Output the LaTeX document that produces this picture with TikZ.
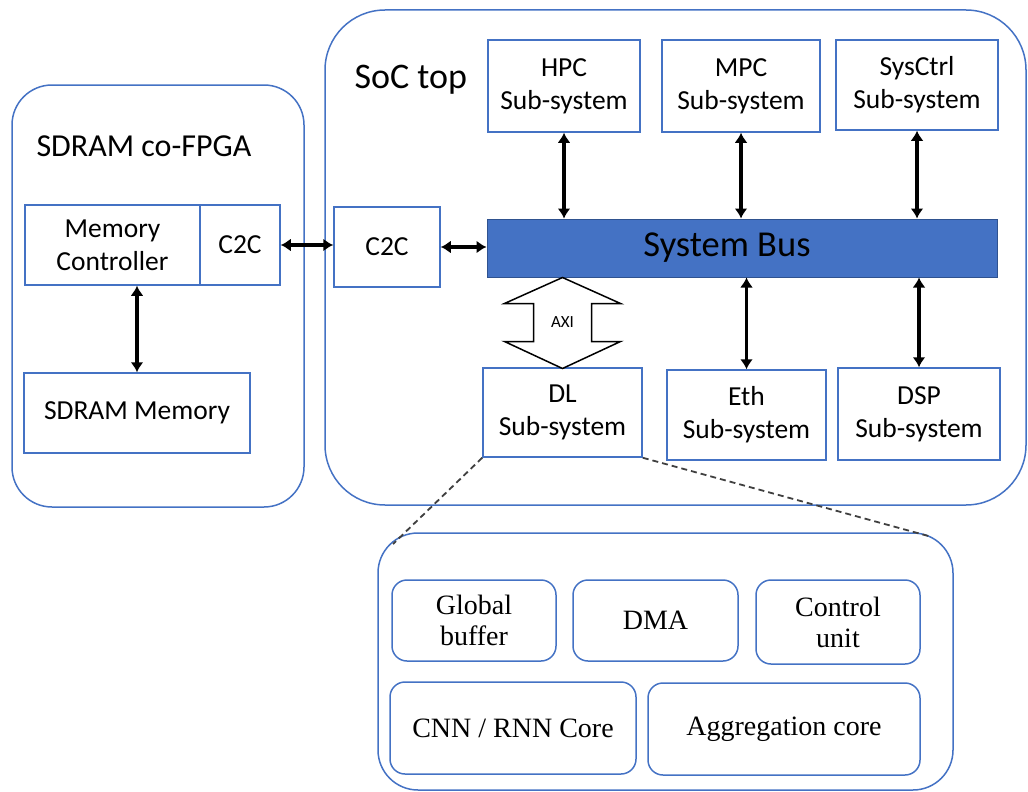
\documentclass[tikz,border=0pt]{standalone}
\usepackage{fontspec}
\setmainfont{Carlito}
\newfontfamily\timesfam{Liberation Serif}
\usepackage{tikz}
\usetikzlibrary{arrows,arrows.meta,positioning,calc,shapes}
\definecolor{boxblue}{HTML}{4472C4}
\definecolor{busedge}{HTML}{2F528F}
\newcommand\boxfont{\fontsize{27.5}{33}\selectfont}
\newcommand\fpgafont{\fontsize{32}{36}\selectfont}
\newcommand\socfont{\fontsize{36}{40}\selectfont}
\newcommand\busfont{\fontsize{36.5}{40}\selectfont}
\newcommand\corefont{\timesfam\fontsize{28}{31}\selectfont}
\newcommand\axifont{\fontsize{17}{20}\selectfont}

\begin{document}
\begin{tikzpicture}[x=1pt,y=-1pt,
	blk/.style={draw=boxblue,line width=1.5pt,inner sep=0pt,align=center,font=\boxfont},
	grp/.style={draw=boxblue,line width=1.5pt,rounded corners=40pt,inner sep=0pt},
	core/.style={draw=boxblue,line width=1.5pt,rounded corners=15pt,inner sep=0pt,align=center,font=\corefont},
	link/.style={{Latex[length=10pt,width=13pt]}-{Latex[length=10pt,width=13pt]},line width=3.5pt}]
	\useasboundingbox (0,0) rectangle (1028,792);
	% group boxes
	\node[grp,minimum width=292,minimum height=422] (fpga) at (158,296) {};
	\node[anchor=west,font=\fpgafont] (fpgalbl) at (33,146) {SDRAM co-FPGA};
	\node[grp,rounded corners=60pt,minimum width=701,minimum height=495] (soc) at (675.5,257.5) {};
	\node[anchor=west,font=\socfont] (soclbl) at (351,80) {SoC top};
	\node[grp,minimum width=575,minimum height=257] (dlcore) at (665.5,661.5) {};
	% co-FPGA side
	\node[blk,minimum width=175,minimum height=80] (memctl) at (112.5,245) {Memory\\Controller};
	\node[blk,minimum width=80,minimum height=80] (c2ca) at (240,245) {C2C};
	\node[blk,minimum width=226,minimum height=80] (sdram) at (137,413) {SDRAM Memory};
	% SoC side
	\node[blk,minimum width=106,minimum height=80] (c2cb) at (387,247) {C2C};
	\node[blk,draw=busedge,line width=1pt,fill=boxblue,minimum width=510,minimum height=58] (bus) at (742,248) {};
	\node[font=\busfont] (buslbl) at ([xshift=-15pt]bus.center) {System Bus};
	\node[blk,minimum width=152,minimum height=92] (hpc) at (564,86) {HPC\\Sub-system};
	\node[blk,minimum width=158,minimum height=92] (mpc) at (741,86) {MPC\\Sub-system};
	\node[blk,minimum width=162,minimum height=90] (sysctrl) at (917,85) {SysCtrl\\Sub-system};
	\node[blk,minimum width=159,minimum height=89] (dl) at (562.5,412.5) {DL\\Sub-system};
	\node[blk,minimum width=159,minimum height=90] (eth) at (746.5,415) {Eth\\Sub-system};
	\node[blk,minimum width=162,minimum height=92] (dsp) at (919,414) {DSP\\Sub-system};
	% DL internals
	\node[core,minimum width=164,minimum height=81] (gbuf) at (474,620.5) {Global\\buffer};
	\node[core,minimum width=165,minimum height=81] (dma) at (655.5,620.5) {DMA};
	\node[core,minimum width=164,minimum height=84] (ctrl) at (838,622) {Control\\unit};
	\node[core,minimum width=246,minimum height=92] (cnn) at (513,728) {CNN / RNN Core};
	\node[core,minimum width=272,minimum height=92] (aggr) at (784,729) {Aggregation core};
	% links
	\draw[link] (sdram.north) -- (sdram.north |- memctl.south);
	\draw[link] (c2ca.east) -- (c2ca.east -| c2cb.west);
	\draw[link] (c2cb.east) -- (c2cb.east -| bus.west);
	\draw[link] (hpc.south) -- (hpc.south |- bus.north);
	\draw[link] (mpc.south) -- (mpc.south |- bus.north);
	\draw[link] (sysctrl.south) -- (sysctrl.south |- bus.north);
	\draw[link] (eth.north) -- (eth.north |- bus.south);
	\draw[link] (dsp.north) -- (dsp.north |- bus.south);
	% AXI arrow
	\coordinate (axitop) at (bus.south -| dl.north);
	\draw[line width=1.5pt,fill=white] (axitop) -- ++(58,26) -- ++(-29,0) -- ++(0,38) -- ++(29,0)
		-- ++(-58,27) -- ++(-58,-27) -- ++(29,0) -- ++(0,-38) -- ++(-29,0) -- cycle;
	\node[font=\axifont] (axi) at ($(axitop)!.5!(dl.north)$) {AXI};
	% zoom lines
	\coordinate (zl) at (393,544);
	\coordinate (zr) at (932,537);
	\draw[dash pattern=on 6pt off 4pt,line width=1.8pt,black!75] (dl.south west) -- (zl);
	\draw[dash pattern=on 6pt off 4pt,line width=1.8pt,black!75] (dl.south east) -- (zr);
\end{tikzpicture}
\end{document}
